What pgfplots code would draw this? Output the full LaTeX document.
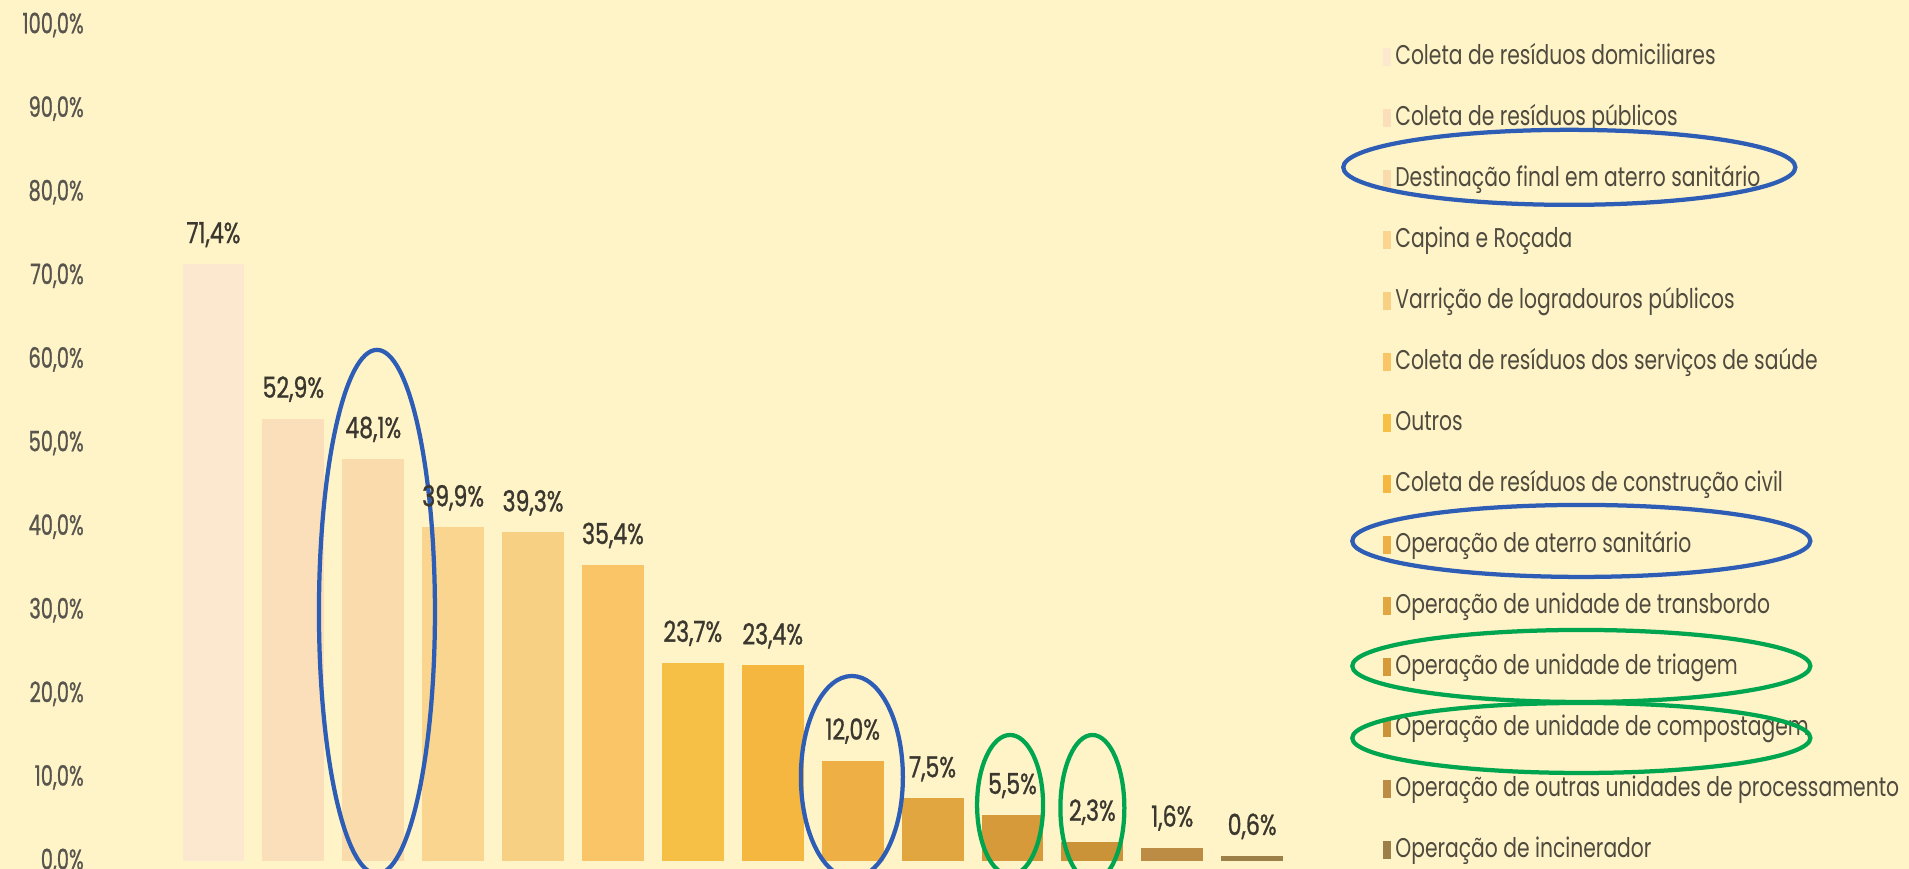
\documentclass[border=0pt]{standalone}
\usepackage{pgfplots}
\pgfplotsset{compat=1.18}
\usepackage{fontspec}
\setmainfont{Poppins}[FakeStretch=0.75]
\newfontfamily\numfont{Poppins}[FakeStretch=0.69, FakeBold=0.8]
\newfontfamily\lblfont{Poppins}[FakeStretch=0.76, FakeBold=1]
\definecolor{bg}{HTML}{FFF3C8}
\definecolor{labcol}{HTML}{3A372E}
\definecolor{legcol}{HTML}{4E4A3E}
\definecolor{ellblue}{HTML}{2E5DB5}
\definecolor{ellgreen}{HTML}{00A64F}
\definecolor{c1}{HTML}{FBE8CF}
\definecolor{c2}{HTML}{FADFBA}
\definecolor{c3}{HTML}{FADBAB}
\definecolor{c4}{HTML}{F9D58F}
\definecolor{c5}{HTML}{F8D083}
\definecolor{c6}{HTML}{F9C566}
\definecolor{c7}{HTML}{F6C046}
\definecolor{c8}{HTML}{F5B73F}
\definecolor{c9}{HTML}{EEB044}
\definecolor{c10}{HTML}{E2A640}
\definecolor{c11}{HTML}{D69A3A}
\definecolor{c12}{HTML}{CB9338}
\definecolor{c13}{HTML}{BC8C45}
\definecolor{c14}{HTML}{9C8048}
\begin{document}
\begin{tikzpicture}
\path[use as bounding box] (0,0) rectangle (38.18cm,17.38cm);
\clip (0,0) rectangle (38.18cm,17.38cm);
\fill[bg] (0,0) rectangle (38.18cm,17.38cm);
\begin{axis}[
  at={(2.352cm,0.16cm)}, anchor=south west,
  scale only axis, width=23.97cm, height=16.72cm,
  xmin=-1.2, xmax=13.8, ymin=0, ymax=100,
  axis line style={draw=none},
  major tick length=0pt,
  xtick=\empty,
  ytick={0,10,...,100},
  /pgf/number format/assume math mode=true,
  yticklabel={\pgfmathprintnumber[fixed,fixed zerofill,precision=1,use comma]{\tick}\%},
  yticklabel style={anchor=east, inner sep=0pt, xshift=-0.67cm, text=labcol!85!white, font=\numfont\fontsize{16}{18}\selectfont},
  ybar, bar width=0.775,
  clip=false,
  point meta=y,
  nodes near coords={\pgfmathprintnumber[fixed,fixed zerofill,precision=1,use comma]{\pgfplotspointmeta}\%},
  nodes near coords style={font=\lblfont\fontsize{16.5}{18}\selectfont, text=labcol, anchor=base, inner sep=0pt, yshift=0.42cm},
  every axis plot/.append style={draw=none, bar shift=0pt,
    legend image code/.code={\fill[##1] (0cm,-0.17cm) rectangle (0.16cm,0.19cm); \path (0.24cm,0);}},
  legend cell align=left,
  legend style={at={(1.0558,0.9767)}, anchor=north west, draw=none, fill=none, inner sep=0pt,
    row sep=0.72cm, font=\fontsize{15.4}{17}\selectfont, text=legcol,
    nodes={inner sep=0pt, text height=0.4cm, text depth=0.1cm}},
]
\addplot[fill=c1] coordinates {(0,71.4)};
\addlegendentry{Coleta de resíduos domiciliares}
\addplot[fill=c2] coordinates {(1,52.9)};
\addlegendentry{Coleta de resíduos públicos}
\addplot[fill=c3] coordinates {(2,48.1)};
\addlegendentry{Destinação final em aterro sanitário}
\addplot[fill=c4] coordinates {(3,39.9)};
\addlegendentry{Capina e Roçada}
\addplot[fill=c5] coordinates {(4,39.3)};
\addlegendentry{Varrição de logradouros públicos}
\addplot[fill=c6] coordinates {(5,35.4)};
\addlegendentry{Coleta de resíduos dos serviços de saúde}
\addplot[fill=c7] coordinates {(6,23.7)};
\addlegendentry{Outros}
\addplot[fill=c8] coordinates {(7,23.4)};
\addlegendentry{Coleta de resíduos de construção civil}
\addplot[fill=c9] coordinates {(8,12.0)};
\addlegendentry{Operação de aterro sanitário}
\addplot[fill=c10] coordinates {(9,7.5)};
\addlegendentry{Operação de unidade de transbordo}
\addplot[fill=c11] coordinates {(10,5.5)};
\addlegendentry{Operação de unidade de triagem}
\addplot[fill=c12] coordinates {(11,2.3)};
\addlegendentry{Operação de unidade de compostagem}
\addplot[fill=c13] coordinates {(12,1.6)};
\addlegendentry{Operação de outras unidades de processamento}
\addplot[fill=c14] coordinates {(13,0.6)};
\addlegendentry{Operação de incinerador}
\draw[ellblue, line width=0.085cm] (axis cs:2.046,29.8) ellipse [x radius=1.16cm, y radius=5.24cm];
\draw[ellblue, line width=0.085cm] (axis cs:7.99,10.05) ellipse [x radius=1.02cm, y radius=2.02cm];
\draw[ellgreen, line width=0.085cm] (axis cs:9.97,6.7) ellipse [x radius=0.66cm, y radius=1.4cm];
\draw[ellgreen, line width=0.085cm] (axis cs:11.0,6.34) ellipse [x radius=0.64cm, y radius=1.46cm];
\end{axis}
\begin{scope}[x=0.02cm,y=0.02cm]
\draw[ellblue, line width=0.085cm] (1569,701.5) ellipse [x radius=226, y radius=37.5];
\draw[ellblue, line width=0.085cm] (1581,328) ellipse [x radius=229, y radius=36];
\draw[ellgreen, line width=0.085cm] (1581,203) ellipse [x radius=229, y radius=36];
\draw[ellgreen, line width=0.085cm] (1581,131) ellipse [x radius=229, y radius=35];
\end{scope}
\end{tikzpicture}
\end{document}
